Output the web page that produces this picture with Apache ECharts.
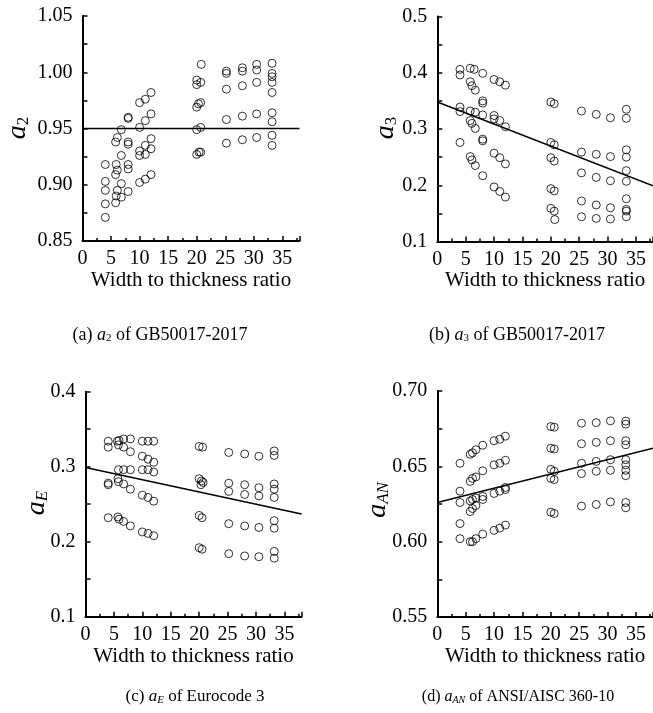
<!DOCTYPE html>
<html>
<head>
<meta charset="utf-8">
<script src="https://cdn.jsdelivr.net/npm/echarts@6/dist/echarts.min.js"></script>
<style>
html,body{margin:0;padding:0;background:#fff;}
#chart{width:653px;height:713px;}
</style>
</head>
<body>
<div id="chart"></div>
<script>
// ---------- data ----------
const xTicks = ['0','5','10','15','20','25','30','35'];

// (a) a2 of GB50017-2017 : [width-to-thickness ratio, a2]
const a2Points = [
  [4,0.918],[4,0.903],[4,0.895],[4,0.883],[4,0.871],
  [5.8,0.938],[6.1,0.942],[5.9,0.918],[6.1,0.913],[5.8,0.909],[6.1,0.895],[5.9,0.890],[5.8,0.884],
  [6.8,0.949],[6.8,0.926],[6.8,0.901],[6.8,0.889],
  [8,0.960],[8,0.959],[8,0.938],[8,0.936],[8,0.918],[8,0.914],[8,0.894],
  [10,0.973],[10,0.951],[10,0.930],[10,0.926],[10,0.902],
  [11,0.976],[11,0.957],[11,0.935],[11,0.927],[11,0.905],
  [12,0.982],[12,0.963],[12,0.941],[12,0.932],[12,0.909],
  [20,0.989],[20,0.993],[20,0.969],[20.3,0.972],[20,0.949],[20,0.927],[20.4,0.929],
  [20.8,1.007],[20.7,0.991],[20.7,0.973],[20.7,0.951],[20.7,0.929],
  [25.2,1.001],[25.2,0.999],[25.2,0.985],[25.2,0.958],[25.2,0.937],
  [28,1.004],[28,1.001],[28,0.988],[28,0.961],[28,0.940],
  [30.5,1.007],[30.5,1.002],[30.5,0.991],[30.5,0.963],[30.5,0.942],
  [33.2,1.008],[33.2,0.999],[33.2,0.996],[33.2,0.991],[33.2,0.982],[33.2,0.964],[33.2,0.956],[33.2,0.944],[33.2,0.935]
];
const a2Fit = [[0,0.95],[38,0.95]];

// (b) a3 of GB50017-2017
const a3Points = [
  [4,0.406],[4,0.396],[4,0.339],[4,0.331],[4,0.276],
  [5.8,0.408],[5.8,0.384],[6.1,0.377],[5.8,0.332],[5.8,0.315],[6.1,0.310],[5.8,0.251],[6.1,0.245],
  [6.5,0.406],[6.7,0.369],[6.7,0.330],[6.7,0.301],[6.7,0.235],
  [8,0.399],[8,0.350],[8,0.346],[8,0.325],[8,0.282],[8,0.279],[8,0.217],
  [10,0.388],[10,0.324],[10,0.318],[10,0.257],[10,0.197],
  [11,0.384],[11,0.315],[11,0.249],[11,0.189],
  [12,0.378],[12,0.304],[12,0.238],[12,0.179],
  [20,0.348],[20.6,0.345],[20,0.276],[20.6,0.272],[20,0.249],[20.6,0.243],[20,0.194],[20.6,0.190],[20,0.159],[20.6,0.154],[20.7,0.139],
  [25.4,0.332],[25.4,0.259],[25.4,0.222],[25.4,0.172],[25.4,0.144],
  [28,0.326],[28,0.255],[28,0.214],[28,0.165],[28,0.141],
  [30.5,0.320],[30.5,0.251],[30.5,0.208],[30.5,0.160],[30.5,0.140],
  [33.3,0.335],[33.3,0.319],[33.3,0.263],[33.3,0.250],[33.3,0.226],[33.3,0.207],[33.3,0.176],[33.3,0.157],[33.3,0.154],[33.3,0.144]
];
const a3Fit = [[0,0.348],[38,0.199]];

// (c) aE of Eurocode 3
const aEPoints = [
  [4,0.334],[4,0.326],[4,0.278],[4,0.276],[4,0.232],
  [5.6,0.334],[5.9,0.335],[5.8,0.329],[5.8,0.296],[5.7,0.284],[5.8,0.280],[5.7,0.233],[5.9,0.230],
  [6.7,0.337],[6.7,0.326],[6.7,0.296],[6.7,0.277],[6.7,0.227],
  [7.9,0.337],[7.9,0.320],[7.9,0.296],[7.9,0.270],[7.9,0.221],
  [10,0.334],[10,0.314],[10,0.296],[10,0.262],[10,0.213],
  [11,0.334],[11,0.310],[11,0.296],[11,0.259],[11,0.211],
  [12,0.334],[12,0.306],[12,0.293],[12,0.254],[12,0.208],
  [20,0.327],[20.6,0.326],[20,0.284],[20.4,0.281],[20.7,0.279],[20.3,0.276],[20,0.235],[20.5,0.232],[20,0.192],[20.5,0.190],
  [25.2,0.319],[25.2,0.278],[25.2,0.267],[25.2,0.224],[25.2,0.184],
  [28,0.317],[28,0.276],[28,0.263],[28,0.221],[28,0.181],
  [30.5,0.314],[30.5,0.272],[30.5,0.261],[30.5,0.219],[30.5,0.180],
  [33.2,0.321],[33.2,0.315],[33.2,0.277],[33.2,0.270],[33.2,0.259],[33.2,0.228],[33.2,0.218],[33.2,0.187],[33.2,0.178]
];
const aEFit = [[0,0.299],[38,0.237]];

// (d) aAN of ANSI/AISC 360-10
const aANPoints = [
  [4,0.652],[4,0.6335],[4,0.626],[4,0.612],[4,0.602],
  [5.8,0.658],[5.8,0.640],[5.8,0.627],[5.8,0.620],[5.8,0.600],
  [6.2,0.659],[6.2,0.642],[6.2,0.628],[6.2,0.622],[6.2,0.600],
  [6.8,0.661],[6.8,0.643],[6.8,0.629],[6.8,0.624],[6.8,0.602],
  [8,0.664],[8,0.647],[8,0.630],[8,0.628],[8,0.605],
  [10,0.667],[10,0.651],[10,0.632],[10,0.6075],
  [11,0.668],[11,0.652],[11,0.6335],[11,0.609],
  [12,0.670],[12,0.654],[12,0.636],[12,0.6346],[12,0.611],
  [20,0.6764],[20.6,0.676],[20,0.662],[20.6,0.6615],[20,0.648],[20.6,0.6467],[20,0.642],[20.6,0.6412],[20,0.6196],[20.6,0.6187],
  [25.4,0.6786],[25.4,0.665],[25.4,0.652],[25.4,0.6452],[25.4,0.6236],
  [28,0.679],[28,0.6659],[28,0.6533],[28,0.6467],[28,0.6247],
  [30.5,0.6802],[30.5,0.667],[30.5,0.6544],[30.5,0.6474],[30.5,0.6264],
  [33.2,0.680],[33.2,0.678],[33.2,0.667],[33.2,0.6643],[33.2,0.6544],[33.2,0.651],[33.2,0.6474],[33.2,0.6438],[33.2,0.626],[33.2,0.6225]
];
const aANFit = [[0,0.626],[38,0.662]];

const xTitle = 'Width to thickness ratio';
const captions = [
  '(a) {i|a}{s|2} of GB50017-2017',
  '(b) {i|a}{s|3} of GB50017-2017',
  '(c) {i|a}{si|E} of Eurocode 3',
  '(d) {i|a}{si|AN} of ANSI/AISC 360-10'
];
const yNames = ['{i|a}{s|2}','{i|a}{s|3}','{i|a}{si|E}','{i|a}{si|AN}'];

// ---------- layout ----------
const FONT = "'Liberation Serif','Times New Roman',serif";
const grids = [
  {left:82.5, top:16, width:217, height:225},
  {left:437.3, top:16.5, width:216, height:225},
  {left:85.5, top:391.7, width:216, height:225},
  {left:437.3, top:391, width:216, height:226}
];
const yCfg = [
  {min:0.85, max:1.05, interval:0.05, dec:2},
  {min:0.1, max:0.5, interval:0.1, dec:1},
  {min:0.1, max:0.4, interval:0.1, dec:1},
  {min:0.55, max:0.70, interval:0.05, dec:2}
];
const pointsList = [a2Points, a3Points, aEPoints, aANPoints];
const fitList = [a2Fit, a3Fit, aEFit, aANFit];

const axisLine = {show:true, onZero:false, lineStyle:{color:'#000', width:2}};

const xAxes = grids.map((g,i)=>({
  type:'value', gridIndex:i, min:0, max:38, interval:5,
  axisLine: axisLine,
  axisTick:{show:true, inside:true, length:5, lineStyle:{color:'#000', width:1.5}},
  minorTick:{show:true, splitNumber:2, length:3, lineStyle:{color:'#000', width:1.5}},
  splitLine:{show:false},
  axisLabel:{show:true, margin:8, color:'#000', fontFamily:FONT, fontSize:20,
    showMaxLabel:false,
    formatter:(v)=> xTicks.indexOf(String(v))>=0 ? String(v) : ''},
  name:xTitle, nameLocation:'middle', nameGap:27,
  nameTextStyle:{color:'#000', fontFamily:FONT, fontSize:21, verticalAlign:'top'}
}));

const yAxes = grids.map((g,i)=>({
  type:'value', gridIndex:i, min:yCfg[i].min, max:yCfg[i].max, interval:yCfg[i].interval,
  axisLine: axisLine,
  axisTick:{show:true, inside:true, length:5, lineStyle:{color:'#000', width:1.5}},
  minorTick:{show:true, splitNumber:2, length:5, lineStyle:{color:'#000', width:1.5}},
  splitLine:{show:false},
  axisLabel:{show:true, margin:10, color:'#000', fontFamily:FONT, fontSize:20,
    formatter:(v)=> v.toFixed(yCfg[i].dec)}
}));

const series = [];
pointsList.forEach((pts,i)=>{
  series.push({
    type:'scatter', xAxisIndex:i, yAxisIndex:i, data:pts,
    symbol:'circle', symbolSize:8,
    itemStyle:{color:'rgba(0,0,0,0)', borderColor:'#000', borderWidth:1},
    silent:true, z:3
  });
  series.push({
    type:'line', xAxisIndex:i, yAxisIndex:i, data:fitList[i],
    symbol:'none', lineStyle:{color:'#000', width:1.5}, silent:true, z:2
  });
});

const rich = (size)=>({
  i:{fontFamily:FONT, fontStyle:'italic', fontSize:size, lineHeight:size, verticalAlign:'middle'},
  s:{fontFamily:FONT, fontSize:Math.round(size*0.62), verticalAlign:'bottom', lineHeight:Math.round(size*0.62)},
  si:{fontFamily:FONT, fontStyle:'italic', fontSize:Math.round(size*0.62), verticalAlign:'bottom', lineHeight:Math.round(size*0.62)},
  n:{fontFamily:FONT, fontSize:size}
});

const yNamePos = [[18,128],[386,128],[37,503],[378,500]];
const capPos = [[160,335],[517,335],[195,697],[518,697]];
const capSize = [18,18,17,16];

const graphics = [];
yNames.forEach((t,i)=>{
  graphics.push({
    type:'text', x:yNamePos[i][0], y:yNamePos[i][1], rotation:Math.PI/2,
    style:{text:t, rich:rich(28), align:'center', verticalAlign:'middle', fill:'#000',
      font:"28px "+FONT}
  });
});
captions.forEach((t,i)=>{
  const r = rich(capSize[i]);
  graphics.push({
    type:'text', x:capPos[i][0], y:capPos[i][1],
    style:{text:t, rich:r, align:'center', verticalAlign:'middle', fill:'#000',
      font:capSize[i]+"px "+FONT, fontFamily:FONT, fontSize:capSize[i]}
  });
});

const chart = echarts.init(document.getElementById('chart'), null, {renderer:'canvas'});
chart.setOption({
  backgroundColor:'#fff',
  animation:false,
  grid:grids,
  xAxis:xAxes,
  yAxis:yAxes,
  series:series,
  graphic:graphics
});
</script>
</body>
</html>
